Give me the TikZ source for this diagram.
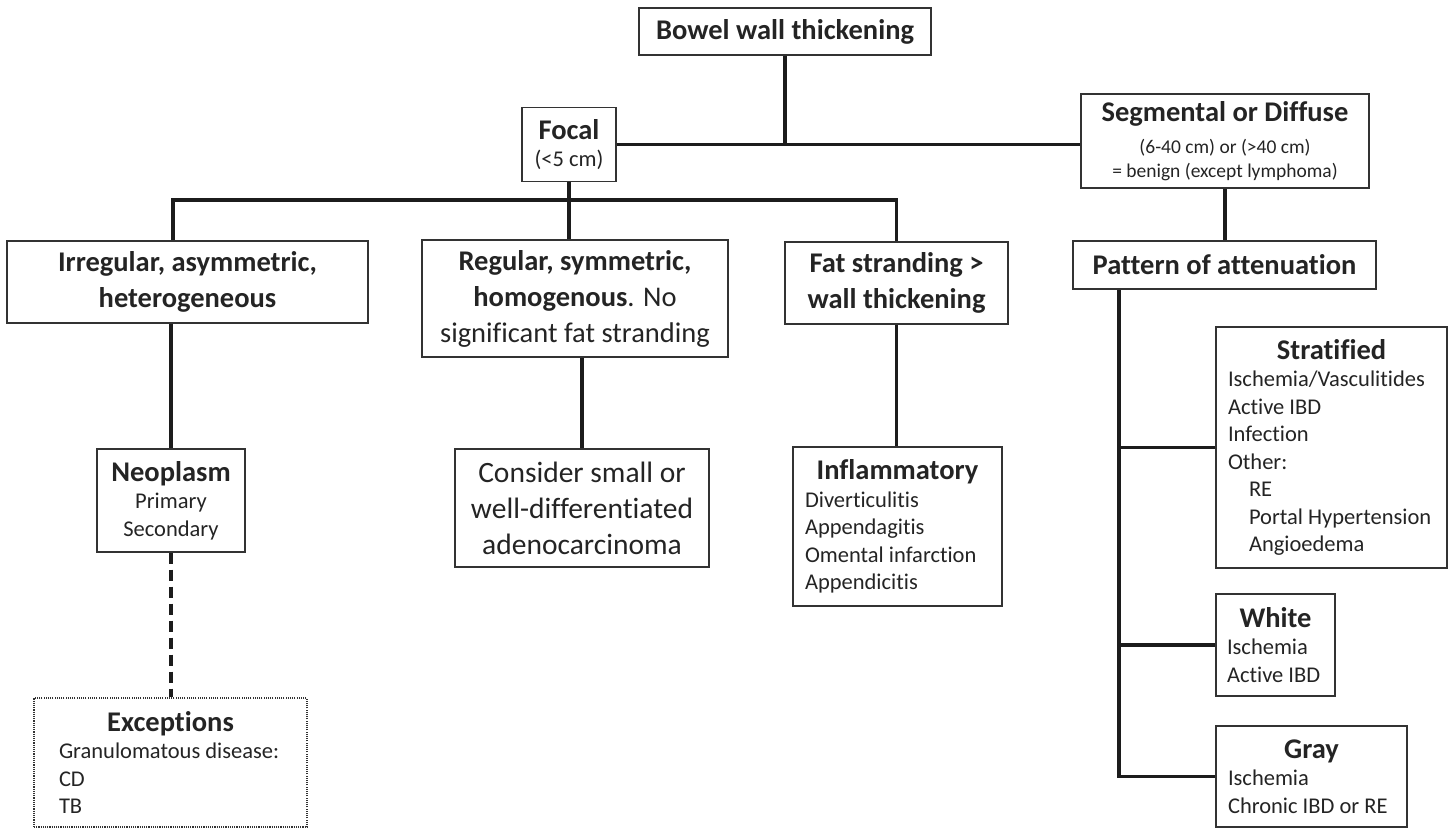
\documentclass[tikz,border=0pt]{standalone}
\usepackage{fontspec}
\setmainfont{Carlito}[RawFeature=-liga]
\usetikzlibrary{positioning}
\definecolor{ink}{HTML}{1C1C1C}
\definecolor{boxline}{HTML}{333333}
\definecolor{txt}{HTML}{242424}
\hyphenpenalty=10000
\newcommand\bodyfont{\fontsize{22.5}{27.5}\selectfont}
\newcommand\notefont{\fontsize{19.5}{24}\selectfont}
\newcommand\bigfont{\fontsize{28.5}{36}\selectfont}
\newcommand\boxtitle[1]{{\bigfont\bfseries #1}}
\newcommand\listtitle[1]{\noindent\makebox[\hsize]{\boxtitle{#1}}}
\tikzset{
  box/.style={draw=boxline,line width=1.4pt,inner sep=0pt,text=txt,align=center,font=\bodyfont},
  listbox/.style={box,align=flush left},
  dotbox/.style={listbox,dash pattern=on 1.1pt off 1.1pt,line width=1.3pt},
  conn/.style={draw=ink,line width=3.2pt},
  dconn/.style={conn,dash pattern=on 11pt off 6pt},
}
\begin{document}
\begin{tikzpicture}[x=1pt,y=-1pt]
  \useasboundingbox (0,0) rectangle (1453,829);
  % top levels
  \node[box,minimum width=292,minimum height=47] (bowel) at (785,31.5)
    {\boxtitle{Bowel wall thickening}};
  \node[box,minimum width=94,minimum height=74] (focal) at (569,144.5)
    {\boxtitle{Focal}\\(<5 cm)};
  \node[box,font=\notefont,minimum width=288,minimum height=94] (seg) at (1225,141)
    {\boxtitle{Segmental or Diffuse}\\[8pt](6-40 cm) or (>40 cm)\\= benign (except lymphoma)};
  % focal branch
  \node[box,font=\bigfont\bfseries,minimum width=361,minimum height=82] (irr) at (187.5,282)
    {Irregular, asymmetric,\\heterogeneous};
  \node[box,font=\bigfont,minimum width=306,minimum height=117] (reg) at (575,298.5)
    {\textbf{Regular, symmetric,}\\\textbf{homogenous}. No\\significant fat stranding};
  \node[box,font=\bigfont\bfseries,minimum width=223,minimum height=82] (fat) at (896.5,283)
    {Fat stranding >\\wall thickening};
  \node[box,minimum width=148,minimum height=103] (neo) at (171,500.5)
    {\boxtitle{Neoplasm}\\Primary\\Secondary};
  \node[box,font=\fontsize{29.5}{36}\selectfont,minimum width=254,minimum height=118] (cons) at (582,508)
    {Consider small or\\well-differentiated\\adenocarcinoma};
  \node[listbox,text width=185,minimum width=209,minimum height=159] (infl) at (897.5,526.5)
    {\listtitle{Inflammatory}\\Diverticulitis\\Appendagitis\\Omental infarction\\Appendicitis};
  \node[dotbox,text width=223,minimum width=273,minimum height=129] (exc) at (170.5,762.5)
    {\listtitle{Exceptions}\\Granulomatous disease:\\CD\\TB};
  % diffuse branch
  \node[box,minimum width=303,minimum height=48] (pat) at (1224.5,265)
    {\boxtitle{Pattern of attenuation}};
  \node[listbox,text width=207,minimum width=231,minimum height=241] (strat) at (1331.5,447.5)
    {\listtitle{Stratified}\\Ischemia/Vasculitides\\Active IBD\\Infection\\Other:\\
     \hspace*{21pt}RE\\\hspace*{21pt}Portal Hypertension\\\hspace*{21pt}Angioedema};
  \node[listbox,text width=97,minimum width=119,minimum height=102] (white) at (1275.5,645)
    {\listtitle{White}\\Ischemia\\Active IBD};
  \node[listbox,text width=167,minimum width=191,minimum height=101] (gray) at (1311.5,776.5)
    {\listtitle{Gray}\\Ischemia\\Chronic IBD or RE};
  % connectors
  \coordinate (barl) at (173,200);
  \coordinate (trunk) at (1119,0);
  \draw[conn] (bowel.south) -- (bowel.south |- focal.east);
  \draw[conn] (focal.east) -- (focal.east -| seg.west);
  \draw[conn] (focal.south) -- (focal.south |- reg.north);
  \draw[conn] (irr.north -| barl) -- (barl) -| (fat.north);
  \draw[conn] (irr.south -| neo.north) -- (neo.north);
  \draw[dconn] (neo.south) -- (neo.south |- exc.north);
  \draw[conn] (reg.south -| cons.north) -- (cons.north);
  \draw[conn] (fat.south) -- (fat.south |- infl.north);
  \draw[conn] (seg.south) -- (seg.south |- pat.north);
  \draw[conn] (pat.south -| trunk) |- (gray.west);
  \draw[conn] (strat.west -| trunk) -- (strat.west);
  \draw[conn] (white.west -| trunk) -- (white.west);
\end{tikzpicture}
\end{document}
